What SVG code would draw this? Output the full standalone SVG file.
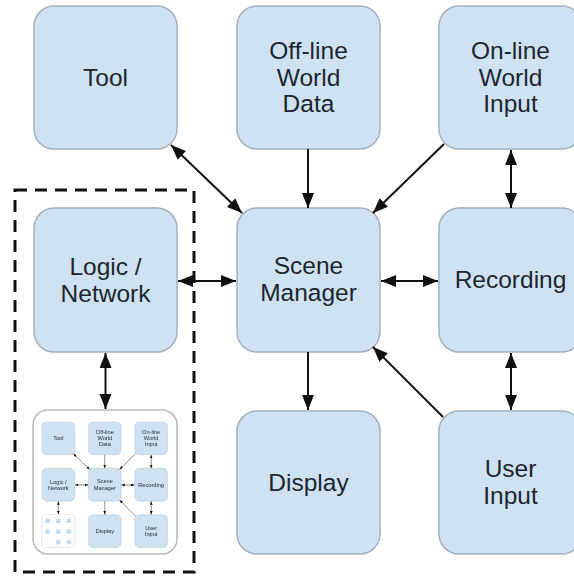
<svg xmlns="http://www.w3.org/2000/svg" xmlns:xlink="http://www.w3.org/1999/xlink" width="574" height="578" viewBox="0 0 574 578">
  <defs>
    <style>
      .box{fill:#cfe2f3;stroke:#a3b1bd;stroke-width:1.5}
      .lbl{font-family:"Liberation Sans",Arial,sans-serif;font-size:24.5px;fill:#1b2630;text-anchor:middle}
      .wire{stroke:#111;stroke-width:2;fill:none}
      .one{marker-end:url(#head)}
      .two{marker-start:url(#head);marker-end:url(#head)}
      .frame{fill:none;stroke:#111;stroke-width:3;stroke-dasharray:12 8}
      .thumb{fill:#fff;stroke:#b9b9b9;stroke-width:1.5}
      .dot{fill:#c6dcef}
    </style>
    <marker id="head" markerUnits="userSpaceOnUse" viewBox="0 0 16 13" markerWidth="16" markerHeight="13" refX="15" refY="6" orient="auto-start-reverse">
      <path d="M0,0 L15,6 L0,12 z" fill="#111"/>
    </marker>
    <filter id="soft" x="-5%" y="-5%" width="110%" height="110%">
      <feGaussianBlur stdDeviation="0.45"/>
    </filter>
  </defs>

  <rect width="574" height="578" fill="#fff"/>

  <!-- main system: eight blocks and their links -->
  <g id="core">
    <g id="tool">
      <rect class="box" x="34" y="6" width="143" height="143" rx="20"/>
      <text class="lbl" x="105.5" y="86">Tool</text>
    </g>
    <g id="offline-data">
      <rect class="box" x="237" y="6" width="143" height="143" rx="20"/>
      <text class="lbl"><tspan x="308.5" y="59">Off-line</tspan><tspan x="308.5" y="85.5">World</tspan><tspan x="308.5" y="112">Data</tspan></text>
    </g>
    <g id="online-input">
      <rect class="box" x="439" y="6" width="143" height="143" rx="20"/>
      <text class="lbl"><tspan x="510.5" y="59">On-line</tspan><tspan x="510.5" y="85.5">World</tspan><tspan x="510.5" y="112">Input</tspan></text>
    </g>
    <g id="logic-network">
      <rect class="box" x="34" y="208" width="143" height="144" rx="20"/>
      <text class="lbl"><tspan x="105.5" y="275">Logic /</tspan><tspan x="105.5" y="301.5">Network</tspan></text>
    </g>
    <g id="scene-manager">
      <rect class="box" x="237" y="208" width="143" height="144" rx="20"/>
      <text class="lbl"><tspan x="308.5" y="274">Scene</tspan><tspan x="308.5" y="301">Manager</tspan></text>
    </g>
    <g id="recording">
      <rect class="box" x="439" y="208" width="143" height="144" rx="20"/>
      <text class="lbl" x="510.5" y="288">Recording</text>
    </g>
    <g id="display">
      <rect class="box" x="237" y="411" width="143" height="143" rx="20"/>
      <text class="lbl" x="308.5" y="491">Display</text>
    </g>
    <g id="user-input">
      <rect class="box" x="439" y="411" width="143" height="143" rx="20"/>
      <text class="lbl"><tspan x="510.5" y="477">User</tspan><tspan x="510.5" y="504">Input</tspan></text>
    </g>

    <g id="connectors">
      <line class="wire two" x1="171" y1="145" x2="242" y2="213"/>
      <line class="wire one" x1="308" y1="149" x2="308" y2="208"/>
      <line class="wire one" x1="444" y1="144" x2="373" y2="213"/>
      <line class="wire two" x1="178" y1="281" x2="236" y2="281"/>
      <line class="wire two" x1="381" y1="281" x2="438" y2="281"/>
      <line class="wire two" x1="511" y1="150" x2="511" y2="208"/>
      <line class="wire two" x1="511" y1="353" x2="511" y2="410"/>
      <line class="wire one" x1="443" y1="417" x2="373" y2="347"/>
      <line class="wire one" x1="308" y1="352" x2="308" y2="410"/>
      <line class="wire two" x1="105.5" y1="353" x2="105.5" y2="409"/>
    </g>
  </g>

  <!-- miniature of the whole system, nested inside the logic side -->
  <g id="thumbnail">
    <rect class="thumb" x="33" y="410" width="144" height="144" rx="15"/>
    <g transform="translate(34.2 420.6) scale(0.229)" filter="url(#soft)">
      <use href="#core"/>
      <rect class="thumb" x="33" y="410" width="144" height="144" rx="15"/>
      <g transform="translate(34.2 420.6) scale(0.229)">
        <rect class="dot" x="60" y="32" width="91" height="91" rx="30"/>
        <rect class="dot" x="263" y="32" width="91" height="91" rx="30"/>
        <rect class="dot" x="465" y="32" width="91" height="91" rx="30"/>
        <rect class="dot" x="60" y="234" width="91" height="91" rx="30"/>
        <rect class="dot" x="263" y="234" width="91" height="91" rx="30"/>
        <rect class="dot" x="465" y="234" width="91" height="91" rx="30"/>
        <rect class="dot" x="263" y="437" width="91" height="91" rx="30"/>
        <rect class="dot" x="465" y="437" width="91" height="91" rx="30"/>
      </g>
    </g>
  </g>

  <!-- dashed boundary around the logic side -->
  <rect class="frame" x="15" y="190" width="179" height="382"/>
</svg>
